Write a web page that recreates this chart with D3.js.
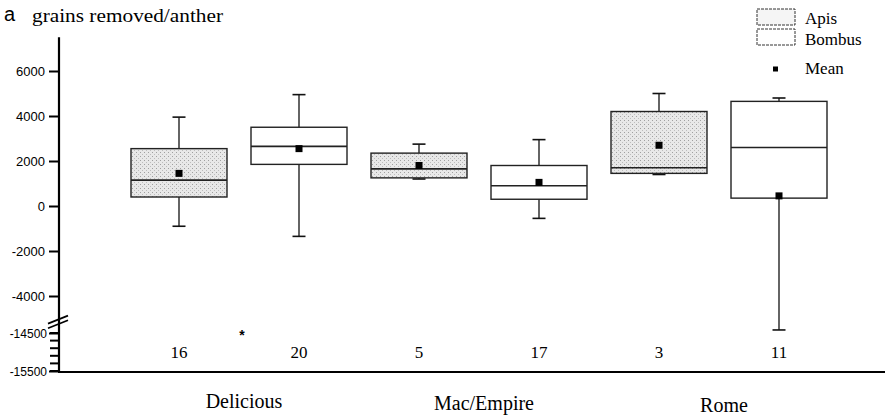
<!DOCTYPE html>
<html><head><meta charset="utf-8">
<script src="https://cdn.jsdelivr.net/npm/d3@7"></script>
<style>
body{margin:0;background:#fff;}
svg{display:block;}
</style></head>
<body>
<svg id="chart" width="892" height="416"></svg>
<script>
// ---- data ----
const groups = ["Delicious", "Mac/Empire", "Rome"];
const species = ["Apis", "Bombus"];
// order: Delicious-Apis, Delicious-Bombus, Mac-Apis, Mac-Bombus, Rome-Apis, Rome-Bombus
const whiskerLow  = [-900, -1350, 1200, -550, 1400, -14420];
const q1          = [400, 1850, 1250, 300, 1450, 350];
const median      = [1150, 2650, 1650, 900, 1700, 2600];
const q3          = [2550, 3500, 2350, 1800, 4200, 4650];
const whiskerHigh = [3950, 4950, 2750, 2950, 5000, 4800];
const means       = [1450, 2550, 1800, 1050, 2700, 450];
const counts      = [16, 20, 5, 17, 3, 11];
const outliers    = [{group: "Delicious", value: -14500}];
const upperTicks  = [-4000, -2000, 0, 2000, 4000, 6000];
const lowerTicks  = [-14500, -15500];
const minorTicks  = [-14500, -14700, -14900, -15100, -15300, -15500];

const svg = d3.select("#chart");
const serif = "'Liberation Serif','Times New Roman',serif";
const sans = "'Liberation Sans',Arial,sans-serif";

// pattern for Apis stipple
const defs = svg.append("defs");
const pat = defs.append("pattern").attr("id","stip").attr("patternUnits","userSpaceOnUse")
  .attr("width",4).attr("height",4);
pat.append("rect").attr("width",4).attr("height",4).attr("fill","#e8e8e8");
pat.append("rect").attr("x",0).attr("y",0).attr("width",1).attr("height",1).attr("fill","#a0a0a0");
pat.append("rect").attr("x",2).attr("y",2).attr("width",1).attr("height",1).attr("fill","#bdbdbd");

// scales
const y = d3.scaleLinear()
  .domain([-15500, -14300, -5000, 7500])
  .range([371, 325.4, 318.5, 37.25]);
const xg = d3.scaleBand().domain(groups).range([119, 839]);
const xs = d3.scalePoint().domain(species).range([0, xg.bandwidth()]).padding(0.5);
const boxW = 96, capW = 13;

const rows = [];
groups.forEach((g, gi) => species.forEach((s, si) => {
  const i = gi * 2 + si;
  rows.push({g, s, wl: whiskerLow[i], q1: q1[i], med: median[i], q3: q3[i],
             wh: whiskerHigh[i], mean: means[i], n: counts[i],
             cx: xg(g) + xs(s)});
}));

// axes
const axisX = 59;
const yAxis = d3.axisLeft(y).tickValues(upperTicks.concat(lowerTicks))
  .tickSize(10).tickFormat(d => String(d));
const ya = svg.append("g").attr("transform", `translate(${axisX},0)`).call(yAxis);
ya.select(".domain").remove();
ya.selectAll(".tick line").attr("stroke","#000").attr("stroke-width",2);
ya.selectAll(".tick text").attr("font-family", sans).attr("font-size", 13)
  .attr("fill","#000").attr("x",-14).attr("dy","0.35em");
ya.selectAll(".tick text").filter(d => d < -10000).attr("font-size", 12).attr("x",-12);

// minor ticks lower segment
svg.append("g").selectAll("line").data(minorTicks).join("line")
  .attr("x1", axisX - 9).attr("x2", axisX).attr("y1", d => y(d)).attr("y2", d => y(d))
  .attr("stroke","#000").attr("stroke-width",2);

// axis lines
svg.append("line").attr("x1",axisX).attr("x2",axisX).attr("y1",y(7500)).attr("y2",y(-15500)+1)
  .attr("stroke","#000").attr("stroke-width",2.2);
svg.append("line").attr("x1",axisX-1).attr("x2",885).attr("y1",y(-15500)+1).attr("y2",y(-15500)+1)
  .attr("stroke","#000").attr("stroke-width",2);

// break marks
const bY = (y(-5000) + y(-14300)) / 2;
[-2.3, 2.3].forEach(off => {
  svg.append("line").attr("x1",48).attr("y1",bY+off+4).attr("x2",68).attr("y2",bY+off-4)
    .attr("stroke","#000").attr("stroke-width",1.8);
});

// boxes
const bx = svg.append("g");
rows.forEach(r => {
  const g = bx.append("g");
  g.append("line").attr("x1",r.cx).attr("x2",r.cx).attr("y1",y(r.wh)).attr("y2",y(r.q3))
    .attr("stroke","#111").attr("stroke-width",1.3);
  g.append("line").attr("x1",r.cx).attr("x2",r.cx).attr("y1",y(r.q1)).attr("y2",y(r.wl))
    .attr("stroke","#111").attr("stroke-width",1.3);
  [r.wh, r.wl].forEach(v => g.append("line").attr("x1",r.cx-capW/2).attr("x2",r.cx+capW/2)
    .attr("y1",y(v)).attr("y2",y(v)).attr("stroke","#111").attr("stroke-width",1.6));
  g.append("rect").attr("x",r.cx-boxW/2).attr("width",boxW)
    .attr("y",y(r.q3)).attr("height",y(r.q1)-y(r.q3))
    .attr("fill", r.s === "Apis" ? "url(#stip)" : "#fff")
    .attr("stroke","#222").attr("stroke-width",1.4);
  g.append("line").attr("x1",r.cx-boxW/2).attr("x2",r.cx+boxW/2)
    .attr("y1",y(r.med)).attr("y2",y(r.med)).attr("stroke","#222").attr("stroke-width",1.6);
  g.append("rect").attr("x",r.cx-3.5).attr("y",y(r.mean)-3.5).attr("width",7).attr("height",7)
    .attr("fill","#000");
  svg.append("text").attr("x",r.cx).attr("y",358).attr("text-anchor","middle")
    .attr("font-family",serif).attr("font-size",17).attr("fill","#000").text(r.n);
});

// outlier
outliers.forEach(o => {
  svg.append("text").attr("x", xg(o.group) + xg.bandwidth()/2 + 3).attr("y", y(o.value) + 7)
    .attr("text-anchor","middle").attr("font-family",sans).attr("font-weight","bold")
    .attr("font-size",14).attr("fill","#000").text("*");
});

// group labels
svg.append("g").selectAll("text").data(groups).join("text")
  .attr("x", d => xg(d) + xg.bandwidth()/2 + 5)
  .attr("y", (d,i) => 408 + i*2)
  .attr("text-anchor","middle").attr("font-family",serif).attr("font-size",20)
  .attr("fill","#000").text(d => d);

// title
svg.append("text").attr("x",4).attr("y",21).attr("font-family",sans)
  .attr("font-size",20).attr("fill","#000").text("a");
svg.append("text").attr("x",32).attr("y",22).attr("font-family",serif).attr("font-size",19)
  .attr("textLength",191).attr("lengthAdjust","spacingAndGlyphs")
  .attr("fill","#000").text("grains removed/anther");

// legend
const lg = svg.append("g");
const legendItems = species.concat(["Mean"]);
const legY = [9, 29, 62];
legendItems.forEach((d, i) => {
  if (d === "Mean") {
    lg.append("rect").attr("x",773).attr("y",legY[i]+4.5).attr("width",5).attr("height",5).attr("fill","#000");
  } else {
    lg.append("rect").attr("x",757).attr("y",legY[i]).attr("width",38).attr("height",16)
      .attr("fill", d === "Apis" ? "#f5f5f5" : "#fff").attr("stroke","#333")
      .attr("stroke-width",1).attr("stroke-dasharray", "3,1");
  }
  lg.append("text").attr("x",805).attr("y", [24, 45, 74][i])
    .attr("font-family",serif).attr("font-size",17).attr("fill","#000").text(d);
});
</script>
</body></html>
